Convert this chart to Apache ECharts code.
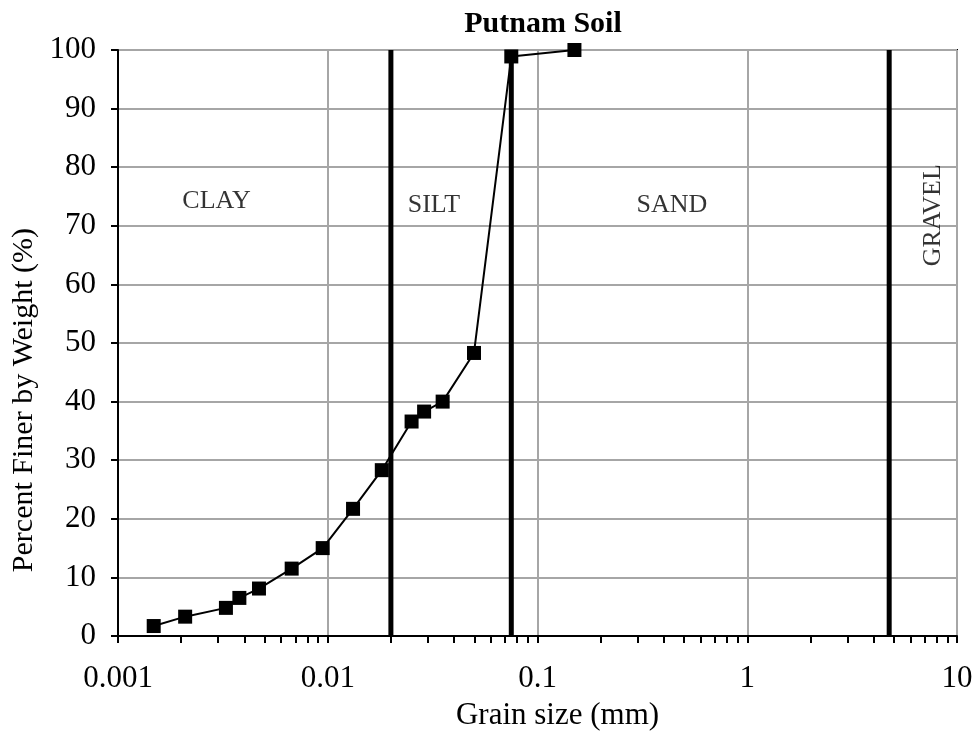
<!DOCTYPE html>
<html>
<head>
<meta charset="utf-8">
<script src="https://cdn.jsdelivr.net/npm/echarts@6/dist/echarts.min.js"></script>
<style>html,body{margin:0;padding:0;background:#fff;}#c{width:979px;height:736px;}</style>
</head>
<body>
<div id="c"></div>
<script>
// Data
const grainSize = [0.00148, 0.00209, 0.00327, 0.00379, 0.0047, 0.00673, 0.00946, 0.0132, 0.0181, 0.0251, 0.0288, 0.0353, 0.0498, 0.075, 0.15];
const percentFiner = [1.7, 3.3, 4.8, 6.5, 8.1, 11.5, 15.0, 21.7, 28.3, 36.6, 38.3, 40.0, 48.3, 98.9, 100];
const boundaries = [0.02, 0.075, 4.75];
const regionNames = ['CLAY', 'SILT', 'SAND', 'GRAVEL'];
const xMajorTicks = [0.001, 0.01, 0.1, 1, 10];
const yTicks = [0, 10, 20, 30, 40, 50, 60, 70, 80, 90, 100];

const xTickValues = [];
for (let d = 0; d < xMajorTicks.length; d++) {
  const base = xMajorTicks[d];
  xTickValues.push(base);
  if (d < xMajorTicks.length - 1) {
    for (let m = 2; m <= 9; m++) xTickValues.push(+(base * m).toPrecision(6));
  }
}

const FONT = '"Liberation Serif", "Times New Roman", serif';
const chart = echarts.init(document.getElementById('c'), null, {renderer: 'canvas'});

const regionPos = [
  [0.00295, 74.2, 0],
  [0.0321, 73.6, 0],
  [0.437, 73.6, 0],
  [7.71, 71.8, 90]
];

const boundarySeries = boundaries.map(b => ({
  type: 'line',
  silent: true,
  data: [[b, yTicks[0]], [b, yTicks[yTicks.length - 1]]],
  symbol: 'none',
  lineStyle: {color: '#000', width: 5},
  z: 3
}));

chart.setOption({
  animation: false,
  backgroundColor: '#fff',
  title: {
    text: 'Putnam Soil',
    left: 538,
    top: 4,
    textAlign: 'center',
    textStyle: {fontFamily: FONT, fontWeight: 'bold', fontSize: 30, color: '#000'}
  },
  grid: {
    left: 118, right: 22, top: 50, bottom: 99,
    show: true, borderColor: '#000', borderWidth: 2, backgroundColor: 'transparent'
  },
  graphic: [{
    type: 'text',
    left: 9,
    top: 228,
    rotation: Math.PI / 2,
    style: {
      text: 'Percent Finer by Weight (%)',
      fontFamily: FONT, fontSize: 30, fill: '#000'
    }
  }],
  xAxis: [{
    type: 'log',
    logBase: 10,
    min: 0.001,
    max: 10,
    name: 'Grain size (mm)',
    nameLocation: 'middle',
    nameGap: 64,
    nameTextStyle: {fontFamily: FONT, fontSize: 31, color: '#000', padding: [0, 0, 0, 40]},
    axisLine: {show: true, onZero: false, lineStyle: {color: '#000', width: 2}},
    axisTick: {show: false},
    axisLabel: {
      margin: 27,
      fontFamily: FONT, fontSize: 31, color: '#000',
      formatter: function (v) { return String(+v.toPrecision(6)); }
    },
    splitLine: {show: true, lineStyle: {color: '#a6a6a6', width: 2}}
  }, {
    type: 'log',
    logBase: 10,
    min: 0.001,
    max: 10,
    position: 'bottom',
    axisLine: {show: false, onZero: false},
    axisTick: {show: true, inside: false, length: 7, customValues: xTickValues, lineStyle: {color: '#000', width: 2}},
    axisLabel: {show: false},
    splitLine: {show: false}
  }],
  yAxis: {
    type: 'value',
    min: 0, max: 100, interval: 10,
    axisLine: {show: true, lineStyle: {color: '#000', width: 2}},
    axisTick: {show: true, inside: false, length: 7, lineStyle: {color: '#000', width: 2}},
    axisLabel: {margin: 22, fontFamily: FONT, fontSize: 31, color: '#000'},
    splitLine: {show: true, lineStyle: {color: '#a6a6a6', width: 2}}
  },
  series: boundarySeries.concat([
    {
      type: 'line',
      name: 'Putnam',
      data: grainSize.map((x, i) => [x, percentFiner[i]]),
      symbol: 'rect',
      symbolSize: 14,
      lineStyle: {color: '#000', width: 2},
      itemStyle: {color: '#000'},
      z: 5
    },
    {
      type: 'scatter',
      silent: true,
      symbolSize: 0,
      data: regionNames.map((n, i) => ({
        name: n,
        value: [regionPos[i][0], regionPos[i][1]],
        label: {rotate: regionPos[i][2]}
      })),
      label: {
        show: true,
        position: 'inside',
        formatter: '{b}',
        fontFamily: FONT, fontSize: 26, color: '#000'
      }
    }
  ])
});
</script>
</body>
</html>
